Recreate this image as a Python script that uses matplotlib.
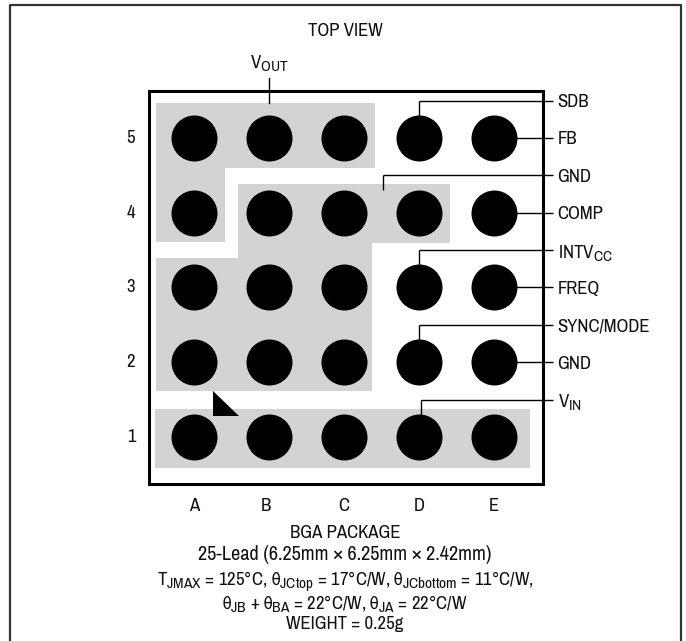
import matplotlib
matplotlib.use("Agg")
import matplotlib.pyplot as plt
import matplotlib._mathtext as mt
from matplotlib.patches import Polygon, Rectangle

FONT = "Archivo Narrow"
plt.rcParams["font.family"] = [FONT, "Roboto Condensed", "Liberation Sans", "DejaVu Sans"]
plt.rcParams["mathtext.fontset"] = "custom"
plt.rcParams["mathtext.rm"] = FONT
plt.rcParams["mathtext.it"] = FONT
plt.rcParams["mathtext.bf"] = FONT
plt.rcParams["mathtext.fallback"] = "stixsans"
mt.SHRINK_FACTOR = 0.82  # subscripts are larger in the original

columns = ["A", "B", "C", "D", "E"]
rows = [1, 2, 3, 4, 5]

# label, row position and column of the lead on the right side
pin_names = ["SDB", "FB", "GND", "COMP", r"INTV$_{\mathrm{CC}}$", "FREQ", "SYNC/MODE", "GND", r"V$_{\mathrm{IN}}$"]
pin_rows = [5.5, 5, 4.5, 4, 3.5, 3, 2.5, 2, 1.5]
pin_cols = [3, 4, 2.52, 4, 3, 4, 3, 4, 3.03]

W, H = 686, 641
X0, Y0, PITCH_X, PITCH_Y = 194, 437, 75, 74.75
TXT = "#111111"
FS = 13.5


def gx(px):
    """pixel x to grid column"""
    return (px - X0) / PITCH_X


def gy(py):
    """pixel y to grid row"""
    return 1 + (Y0 - py) / PITCH_Y


vout_pad = [(155.7, 103), (375, 103), (375, 167.7), (225.3, 167.7), (225.3, 242), (155.7, 242)]
gnd_pad = [(238.3, 183.7), (449.7, 183.7), (449.7, 242.7), (372.3, 242.7), (372.3, 391),
           (155.7, 391), (155.7, 258), (238.3, 258)]
vin_pad = [(155.2, 409), (530, 409), (530, 468), (155.2, 468)]
corner_mark = [(213, 391), (213, 416), (239, 416)]

fig = plt.figure(figsize=(6.86, 6.41), dpi=100)
ax = fig.add_axes([0, 0, 1, 1])
ax.set_xlim(gx(0), gx(W))
ax.set_ylim(gy(H), gy(0))
ax.axis("off")

# outer page frame, open at the bottom
ax.plot([gx(10), gx(10), gx(680.5), gx(680.5)], [gy(H), gy(5), gy(5), gy(H)], color="#333333", lw=1.6)

for pad in [vout_pad, gnd_pad, vin_pad]:
    ax.add_patch(Polygon([(gx(a), gy(b)) for a, b in pad], closed=True, fc="#d1d3d4", ec="none", zorder=1))

# package outline
ax.add_patch(Rectangle((gx(148.5), gy(484)), gx(542.5) - gx(148.5), gy(91) - gy(484),
                       fc="none", ec="black", lw=2.2, zorder=2))

xs = [i for i in range(len(columns)) for r in rows]
ys = [r for i in range(len(columns)) for r in rows]
ax.scatter(xs, ys, s=1097, color="black", linewidths=0, zorder=3)

ax.add_patch(Polygon([(gx(a), gy(b)) for a, b in corner_mark], closed=True, fc="black", ec="none", zorder=3))

# lead lines on the right
for name, r, c in zip(pin_names, pin_rows, pin_cols):
    ax.plot([c, gx(553)], [r, r], color="black", lw=1.0, zorder=2.5, solid_capstyle="butt")
    if r != int(r):
        ax.plot([c, c], [r, r - 0.2], color="black", lw=1.0, zorder=2.5, solid_capstyle="butt")
    ax.text(gx(557.5), r, name, fontsize=FS, ha="left", va="center_baseline", color=TXT)

# VOUT lead
ax.plot([1, 1], [gy(78), gy(103)], color="black", lw=1.0, zorder=2.5)
ax.text(1, gy(63), r"V$_{\mathrm{OUT}}$", fontsize=FS, ha="center", va="center", color=TXT)

for r in rows:
    ax.text(gx(131), r, str(r), fontsize=FS, ha="center", va="center", color=TXT)
for i, c in enumerate(columns):
    ax.text(i if c != "B" else gx(265.5), gy(506), c, fontsize=FS, ha="center", va="center", color=TXT)

cx = gx(345)
ax.text(cx, gy(31), "TOP VIEW", fontsize=FS, ha="center", va="center", color=TXT)
ax.text(cx, gy(533), "BGA PACKAGE", fontsize=FS, ha="center", va="center", color=TXT)
ax.text(cx, gy(555), "25-Lead (6.25mm × 6.25mm × 2.42mm)", fontsize=14.6, ha="center", va="center", color=TXT)
ax.text(cx, gy(582), r"T$_{\mathrm{JMAX}}$ = 125°C, $\mathrm{\theta_{JCtop}}$ = 17°C/W, $\mathrm{\theta_{JCbottom}}$ = 11°C/W,",
        fontsize=FS, ha="center", va="center", color=TXT)
ax.text(cx, gy(604), r"$\mathrm{\theta_{JB}}$ + $\mathrm{\theta_{BA}}$ = 22°C/W, $\mathrm{\theta_{JA}}$ = 22°C/W",
        fontsize=FS, ha="center", va="center", color=TXT)
ax.text(cx, gy(624), "WEIGHT = 0.25g", fontsize=FS, ha="center", va="center", color=TXT)

fig.savefig("out.png", dpi=100)
